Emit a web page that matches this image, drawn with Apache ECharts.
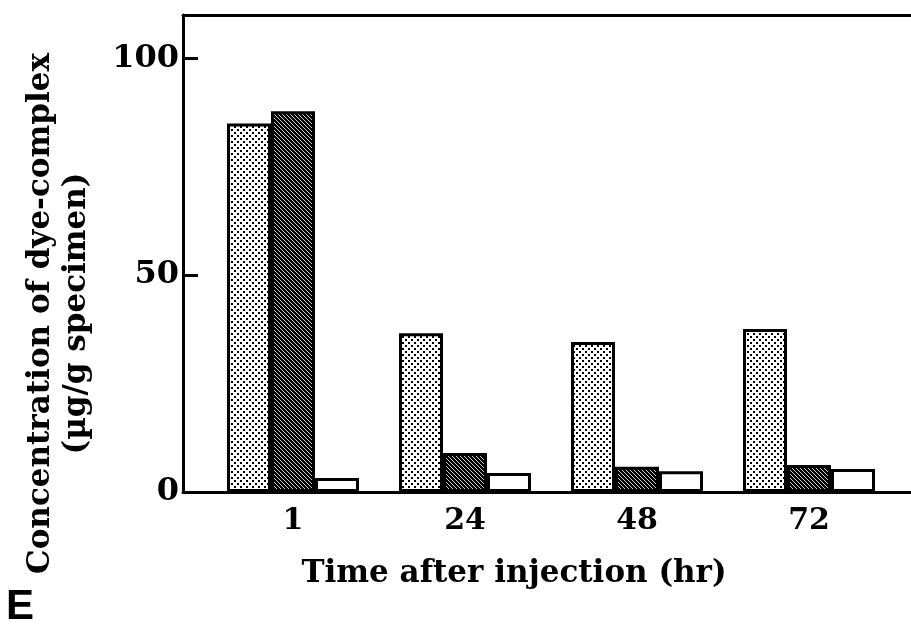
<!DOCTYPE html>
<html>
<head>
<meta charset="utf-8">
<script src="https://cdn.jsdelivr.net/npm/echarts@6/dist/echarts.min.js"></script>
<style>
  html, body { margin: 0; padding: 0; background: #fff; }
  #chart { width: 911px; height: 625px; }
</style>
</head>
<body>
<div id="chart"></div>
<script>
// time points (hr)
const hours = ['1', '24', '48', '72'];
// concentration of dye-complex (ug/g specimen)
const stippledValues = [85.0, 36.6, 34.6, 37.6];
const hatchedValues = [87.8, 9.0, 5.8, 6.2];
const openValues = [3.2, 4.4, 4.8, 5.3];
const yMax = 110;
const yStep = 50;

const serif = 'DejaVu Serif';

// dotted fill
const makeDots = () => {
  const c = document.createElement('canvas');
  c.width = 6; c.height = 6;
  const g = c.getContext('2d');
  g.fillStyle = '#fff';
  g.fillRect(0, 0, 6, 6);
  g.fillStyle = '#000';
  g.fillRect(0, 0, 2, 2);
  g.fillRect(3, 3, 2, 2);
  return c;
};

// dense diagonal hatching
const makeHatch = () => {
  const c = document.createElement('canvas');
  c.width = 4; c.height = 4;
  const g = c.getContext('2d');
  g.fillStyle = '#000';
  g.fillRect(0, 0, 4, 4);
  g.fillStyle = '#ccc';
  for (let i = 0; i < 4; i++) g.fillRect(i, i, 1, 1);
  return c;
};

const barBorder = { borderColor: '#000', borderWidth: 3 };

const chart = echarts.init(document.getElementById('chart'));

const option = {
  animation: false,
  title: {
    text: 'E',
    left: 6,
    top: 586,
    padding: 0,
    textStyle: { fontFamily: 'Liberation Sans', fontWeight: 'bold', fontSize: 42, color: '#000' }
  },
  grid: [
    { left: 183, right: 0, top: 15, bottom: 133, outerBoundsMode: 'none', containLabel: false },
    { left: 207, right: 16, top: 15, bottom: 133, outerBoundsMode: 'none', containLabel: false }
  ],
  xAxis: [
    {
      gridIndex: 0, type: 'value', min: 0, max: 1, position: 'bottom',
      axisLine: { show: true, lineStyle: { color: '#000', width: 3 } },
      axisTick: { show: false }, axisLabel: { show: false }, splitLine: { show: false }
    },
    {
      gridIndex: 1, type: 'category', data: hours,
      axisLine: { show: false }, axisTick: { show: false },
      axisLabel: { color: '#000', fontFamily: serif, fontWeight: 'bold', fontSize: 30, margin: 14 },
      name: 'Time after injection (hr)',
      nameLocation: 'middle',
      nameGap: 66,
      nameTextStyle: { color: '#000', fontFamily: serif, fontWeight: 'bold', fontSize: 31, padding: [0, 74, 0, 0] }
    },
    {
      gridIndex: 0, type: 'value', min: 0, max: 1, position: 'top',
      axisLine: { show: true, lineStyle: { color: '#000', width: 3 } },
      axisTick: { show: false }, axisLabel: { show: false }, splitLine: { show: false }
    }
  ],
  yAxis: [
    {
      gridIndex: 0, type: 'value', min: 0, max: yMax, interval: yStep,
      axisLine: { show: true, lineStyle: { color: '#000', width: 3 } },
      axisTick: { show: true, inside: true, length: 15, lineStyle: { color: '#000', width: 3 } },
      axisLabel: { color: '#000', fontFamily: serif, fontWeight: 'bold', fontSize: 32, margin: 4, showMaxLabel: false },
      splitLine: { show: false },
      name: 'Concentration of dye-complex\n(µg/g specimen)',
      nameLocation: 'middle',
      nameGap: 88,
      nameTextStyle: { color: '#000', fontFamily: serif, fontWeight: 'bold', fontSize: 31, lineHeight: 36, padding: [0, 120, 0, 0] }
    },
    { gridIndex: 1, type: 'value', min: 0, max: yMax, show: false }
  ],
  series: [
    {
      type: 'bar', xAxisIndex: 1, yAxisIndex: 1, data: stippledValues,
      barWidth: 44, barGap: '0%',
      itemStyle: Object.assign({ color: { image: makeDots(), repeat: 'repeat' } }, barBorder)
    },
    {
      type: 'bar', xAxisIndex: 1, yAxisIndex: 1, data: hatchedValues,
      barWidth: 44, barGap: '0%',
      itemStyle: Object.assign({ color: { image: makeHatch(), repeat: 'repeat' } }, barBorder)
    },
    {
      type: 'bar', xAxisIndex: 1, yAxisIndex: 1, data: openValues,
      barWidth: 44, barGap: '0%',
      itemStyle: Object.assign({ color: '#fff' }, barBorder)
    }
  ]
};

chart.setOption(option);
</script>
</body>
</html>
